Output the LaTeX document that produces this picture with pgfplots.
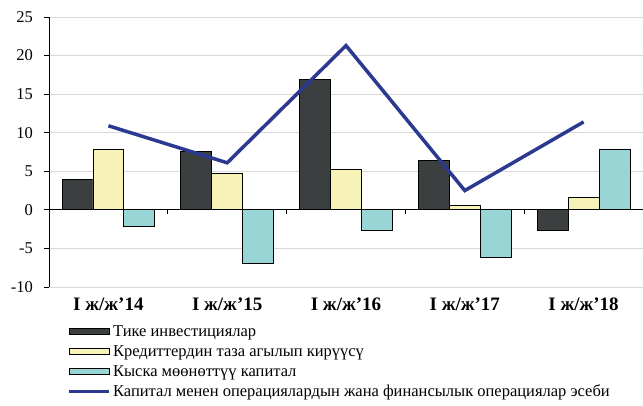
\documentclass[border=0pt]{standalone}
\usepackage{pgfplots}
\pgfplotsset{compat=1.18}
\usepackage{fontspec}
\setmainfont{Liberation Serif}

\definecolor{cdark}{HTML}{3B3F40}
\definecolor{cyel}{HTML}{F7F3B8}
\definecolor{cteal}{HTML}{99D5D5}
\definecolor{cline}{HTML}{2B3990}

\pgfplotsset{
  barleg/.style={legend image code/.code={\draw[##1,line width=0.8bp] (0bp,-3bp) rectangle (40bp,3bp);}},
  lineleg/.style={legend image code/.code={\draw[##1] (0bp,0bp) -- (40bp,0bp);}},
}

\begin{document}
\begin{tikzpicture}
\begin{axis}[
    name=ax,
    scale only axis,
    width=594bp,
    height=270bp,
    xmin=-0.5, xmax=4.5,
    ymin=-10, ymax=25,
    ytick={-10,-5,0,5,10,15,20,25},
    xtick={0,1,2,3,4},
    xticklabels={I ж/ж’14, I ж/ж’15, I ж/ж’16, I ж/ж’17, I ж/ж’18},
    axis x line*=bottom,
    axis y line*=left,
    x axis line style={draw=none},
    y axis line style={black, line width=1bp},
    xtick style={draw=none},
    ytick style={black, line width=1bp},
    tick align=outside,
    major tick length=5bp,
    ymajorgrids,
    grid style={black!15, line width=1bp},
    /pgf/number format/assume math mode=true,
    yticklabel style={font=\fontsize{16.5bp}{20bp}\selectfont, anchor=east, inner sep=0bp, xshift=-11bp},
    xticklabel style={font=\bfseries\fontsize{19bp}{22bp}\selectfont, yshift=-2bp},
    legend cell align=left,
    legend style={draw=none, fill=none, at={(0.031,-0.135)}, anchor=north west,
      font=\fontsize{16.5bp}{19bp}\selectfont, row sep=3.5bp, inner sep=0bp},
    clip=false,
]
\addplot[ybar, bar width=0.26, bar shift=-0.26, fill=cdark, draw=black, line width=0.8bp, barleg]
  coordinates {(0,3.9) (1,7.6) (2,16.9) (3,6.4) (4,-2.7)};
\addlegendentry{Тике инвестициялар}
\addplot[ybar, bar width=0.26, bar shift=0, fill=cyel, draw=black, line width=0.8bp, barleg]
  coordinates {(0,7.9) (1,4.7) (2,5.2) (3,0.6) (4,1.6)};
\addlegendentry{Кредиттердин таза агылып кирүүсү}
\addplot[ybar, bar width=0.26, bar shift=0.26, fill=cteal, draw=black, line width=0.8bp, barleg]
  coordinates {(0,-2.1) (1,-7.0) (2,-2.7) (3,-6.2) (4,7.9)};
\addlegendentry{Кыска мөөнөттүү капитал}
\addplot[cline, line width=3.5bp, mark=none, line join=miter, lineleg]
  coordinates {(0,10.9) (1,6.1) (2,21.3) (3,2.5) (4,11.4)};
\addlegendentry{Капитал менен операциялардын жана финансылык операциялар эсеби}
\draw[black, line width=1bp] (axis cs:-0.5,0) -- (axis cs:4.5,0);
\pgfplotsinvokeforeach{0.5,1.5,2.5,3.5}{
  \draw[black, line width=1bp] (axis cs:#1,0) -- (axis cs:#1,-0.5);
}
\end{axis}
\pgfresetboundingbox
\path ([xshift=-49bp,yshift=-118bp]ax.south west) rectangle ([yshift=17bp]ax.north east);
\end{tikzpicture}
\end{document}
